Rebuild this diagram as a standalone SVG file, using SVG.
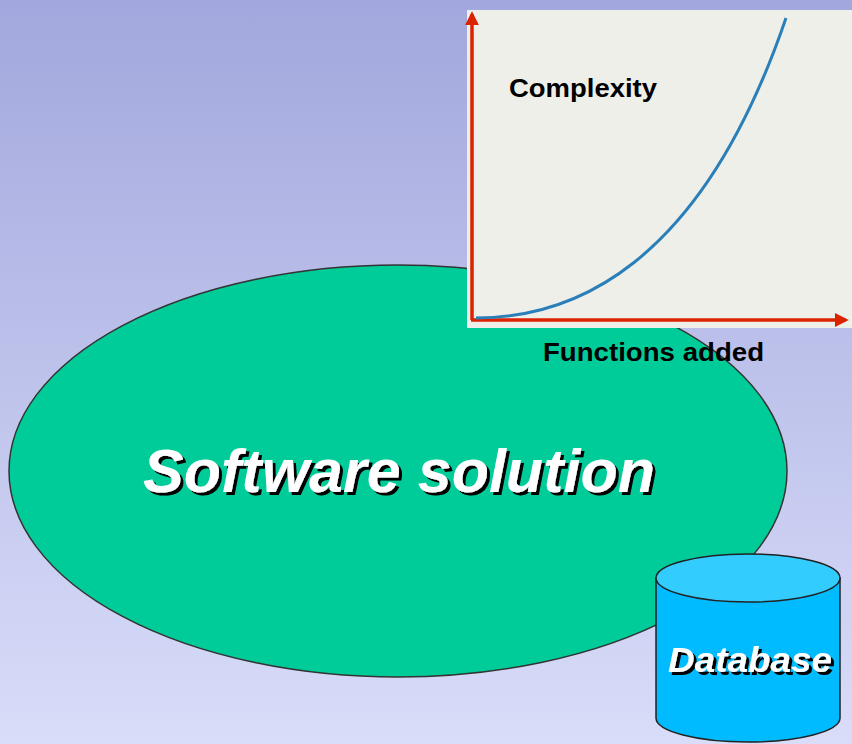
<svg xmlns="http://www.w3.org/2000/svg" width="852" height="744" viewBox="0 0 852 744">
  <defs>
    <linearGradient id="bg" x1="0" y1="0" x2="0" y2="1">
      <stop offset="0" stop-color="#a2a7dd"/>
      <stop offset="1" stop-color="#d9ddf9"/>
    </linearGradient>
    <marker id="redArrow" viewBox="0 0 10 10" refX="8" refY="5" markerWidth="4" markerHeight="4" orient="auto" markerUnits="strokeWidth">
      <path d="M0,0 L10,5 L0,10 Z" fill="#dd2200"/>
    </marker>
    <!-- hard black drop shadow for the white titles -->
    <filter id="hardShadow" x="-5%" y="-20%" width="110%" height="140%">
      <feDropShadow dx="3" dy="3" stdDeviation="0" flood-color="#000" flood-opacity="1"/>
    </filter>
  </defs>
  <style>
    .axis { stroke: #dd2200; stroke-width: 3.5; fill: none; }
    .curve { stroke: #2a7fb8; stroke-width: 3; fill: none; }
    .label { font-family: "Liberation Sans", Arial, sans-serif; font-weight: bold; fill: #000; }
    .title { font-family: "Liberation Sans", Arial, sans-serif; font-weight: bold; font-style: italic; fill: #fff; filter: url(#hardShadow); }
  </style>

  <rect width="852" height="744" fill="url(#bg)"/>

  <!-- main solution ellipse -->
  <g id="software-solution">
    <ellipse cx="398" cy="471" rx="389" ry="206" fill="#00cc99" stroke="#333" stroke-width="1.5"/>
    <text class="title" x="143" y="492" font-size="62" textLength="512" lengthAdjust="spacingAndGlyphs">Software solution</text>
  </g>

  <!-- complexity chart -->
  <g id="complexity-chart">
    <rect x="467" y="10" width="385" height="318" fill="#efefea"/>
    <line class="axis" x1="472" y1="320" x2="472" y2="14" marker-end="url(#redArrow)"/>
    <line class="axis" x1="471" y1="320" x2="846" y2="320" marker-end="url(#redArrow)"/>
    <path class="curve" d="M476,318 C570,318 700,270 786,18"/>
    <text class="label" x="509" y="97" font-size="26" textLength="148" lengthAdjust="spacingAndGlyphs">Complexity</text>
  </g>

  <g id="axis-label">
    <text class="label" x="543" y="361" font-size="26" textLength="221" lengthAdjust="spacingAndGlyphs">Functions added</text>
  </g>

  <!-- database cylinder -->
  <g id="database">
    <path d="M656,578 L656,718 A92,24 0 0 0 840,718 L840,578 Z" fill="#00bbff" stroke="#222" stroke-width="1.5"/>
    <ellipse cx="748" cy="578" rx="92" ry="24" fill="#33ccff" stroke="#222" stroke-width="1.5"/>
    <text class="title" x="668" y="672" font-size="35" textLength="164" lengthAdjust="spacingAndGlyphs" style="filter:url(#hardShadow)">Database</text>
  </g>
</svg>
